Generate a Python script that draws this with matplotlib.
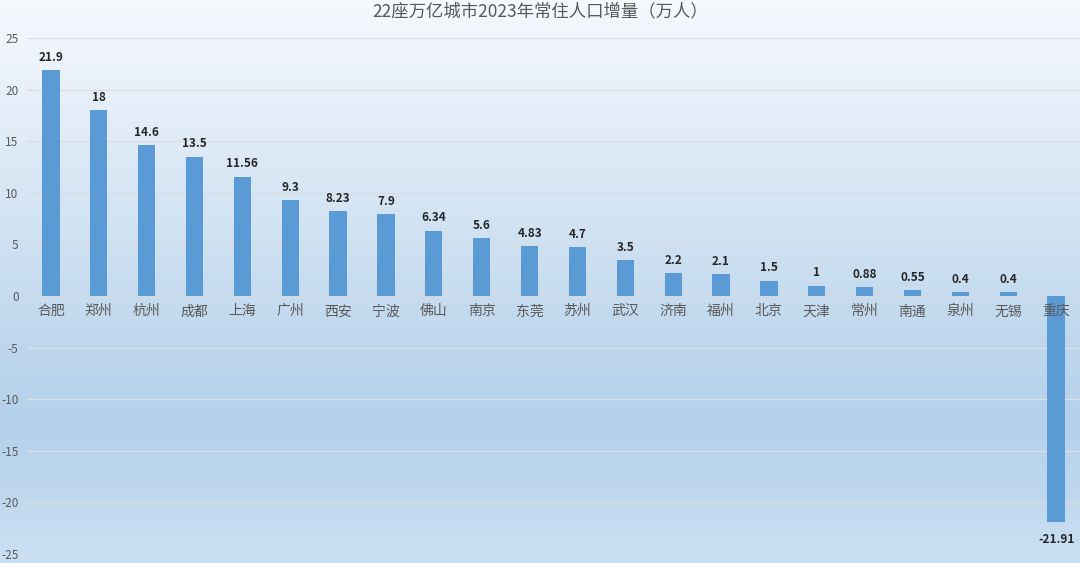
import numpy as np
import matplotlib
matplotlib.use('Agg')
import matplotlib.pyplot as plt
from matplotlib.colors import LinearSegmentedColormap
from matplotlib.ticker import FixedLocator

plt.rcParams['font.family'] = ['Noto Sans CJK SC', 'DejaVu Sans']

cities = ['合肥', '郑州', '杭州', '成都', '上海', '广州', '西安', '宁波', '佛山', '南京', '东莞',
          '苏州', '武汉', '济南', '福州', '北京', '天津', '常州', '南通', '泉州', '无锡', '重庆']
growth = [21.9, 18, 14.6, 13.5, 11.56, 9.3, 8.23, 7.9, 6.34, 5.6, 4.83,
          4.7, 3.5, 2.2, 2.1, 1.5, 1, 0.88, 0.55, 0.4, 0.4, -21.91]
labels = ['21.9', '18', '14.6', '13.5', '11.56', '9.3', '8.23', '7.9', '6.34', '5.6', '4.83',
          '4.7', '3.5', '2.2', '2.1', '1.5', '1', '0.88', '0.55', '0.4', '0.4', '-21.91']
yticks = [-25, -20, -15, -10, -5, 0, 5, 10, 15, 20, 25]

fig = plt.figure(figsize=(10.8, 5.63), dpi=100)

# background gradient over the whole figure
bg = fig.add_axes([0, 0, 1, 1], zorder=-10)
stops = [(0.0, (246/255, 249/255, 253/255)),
         (0.5, (200/255, 221/255, 240/255)),
         (0.75, (180/255, 208/255, 235/255)),
         (1.0, (202/255, 223/255, 242/255))]
cmap = LinearSegmentedColormap.from_list('bg', stops)
grad = np.linspace(0, 1, 256).reshape(-1, 1)
bg.imshow(grad, aspect='auto', cmap=cmap, extent=[0, 1, 1, 0])
bg.set_xlim(0, 1)
bg.set_ylim(1, 0)
bg.axis('off')

ax = fig.add_axes([27/1080, 9/563, 1053/1080, 516/563])
ax.patch.set_alpha(0)

x = np.arange(len(cities))
ax.bar(x, growth, width=0.36, color='#5B9BD5', zorder=3)

ax.set_xlim(-0.5, len(cities) - 0.5)
ax.set_ylim(-25, 25)
ax.set_yticks(yticks)
ax.set_yticklabels([str(v) for v in yticks])
ax.grid(axis='y', color='#dadde2', lw=1, zorder=0)
ax.tick_params(axis='y', length=0, pad=6, labelsize=8.5, labelcolor='#595959')

for s in ['top', 'right', 'left']:
    ax.spines[s].set_visible(False)
ax.spines['bottom'].set_position(('data', 0))
ax.spines['bottom'].set_color('#d4d8de')
ax.spines['bottom'].set_zorder(2)

# category names sit on the zero line, drawn over the bars
ax.set_xticks(x)
ax.set_xticklabels([])
ax.xaxis.set_minor_locator(FixedLocator(np.arange(-0.5, len(cities), 1)))
ax.tick_params(axis='x', which='major', length=0)
ax.tick_params(axis='x', which='minor', length=3, color='#d4d8de')
for xi, name in zip(x, cities):
    ax.annotate(name, (xi, 0), xytext=(0, -6), textcoords='offset points',
                ha='center', va='top', fontsize=10, color='#595959', zorder=6)

for xi, v, lab in zip(x, growth, labels):
    if v >= 0:
        ax.annotate(lab, (xi, v), xytext=(0, 4.5), textcoords='offset points',
                    ha='center', va='bottom', fontsize=8.5, color='#262626', fontweight='semibold')
    else:
        ax.annotate(lab, (xi, v), xytext=(0, -8), textcoords='offset points',
                    ha='center', va='top', fontsize=8.5, color='#262626', fontweight='semibold')

fig.text(0.5, 1 - 11/563, '22座万亿城市2023年常住人口增量（万人）', ha='center', va='center',
         fontsize=12.5, color='#595959')

fig.savefig('out.png', dpi=100)
